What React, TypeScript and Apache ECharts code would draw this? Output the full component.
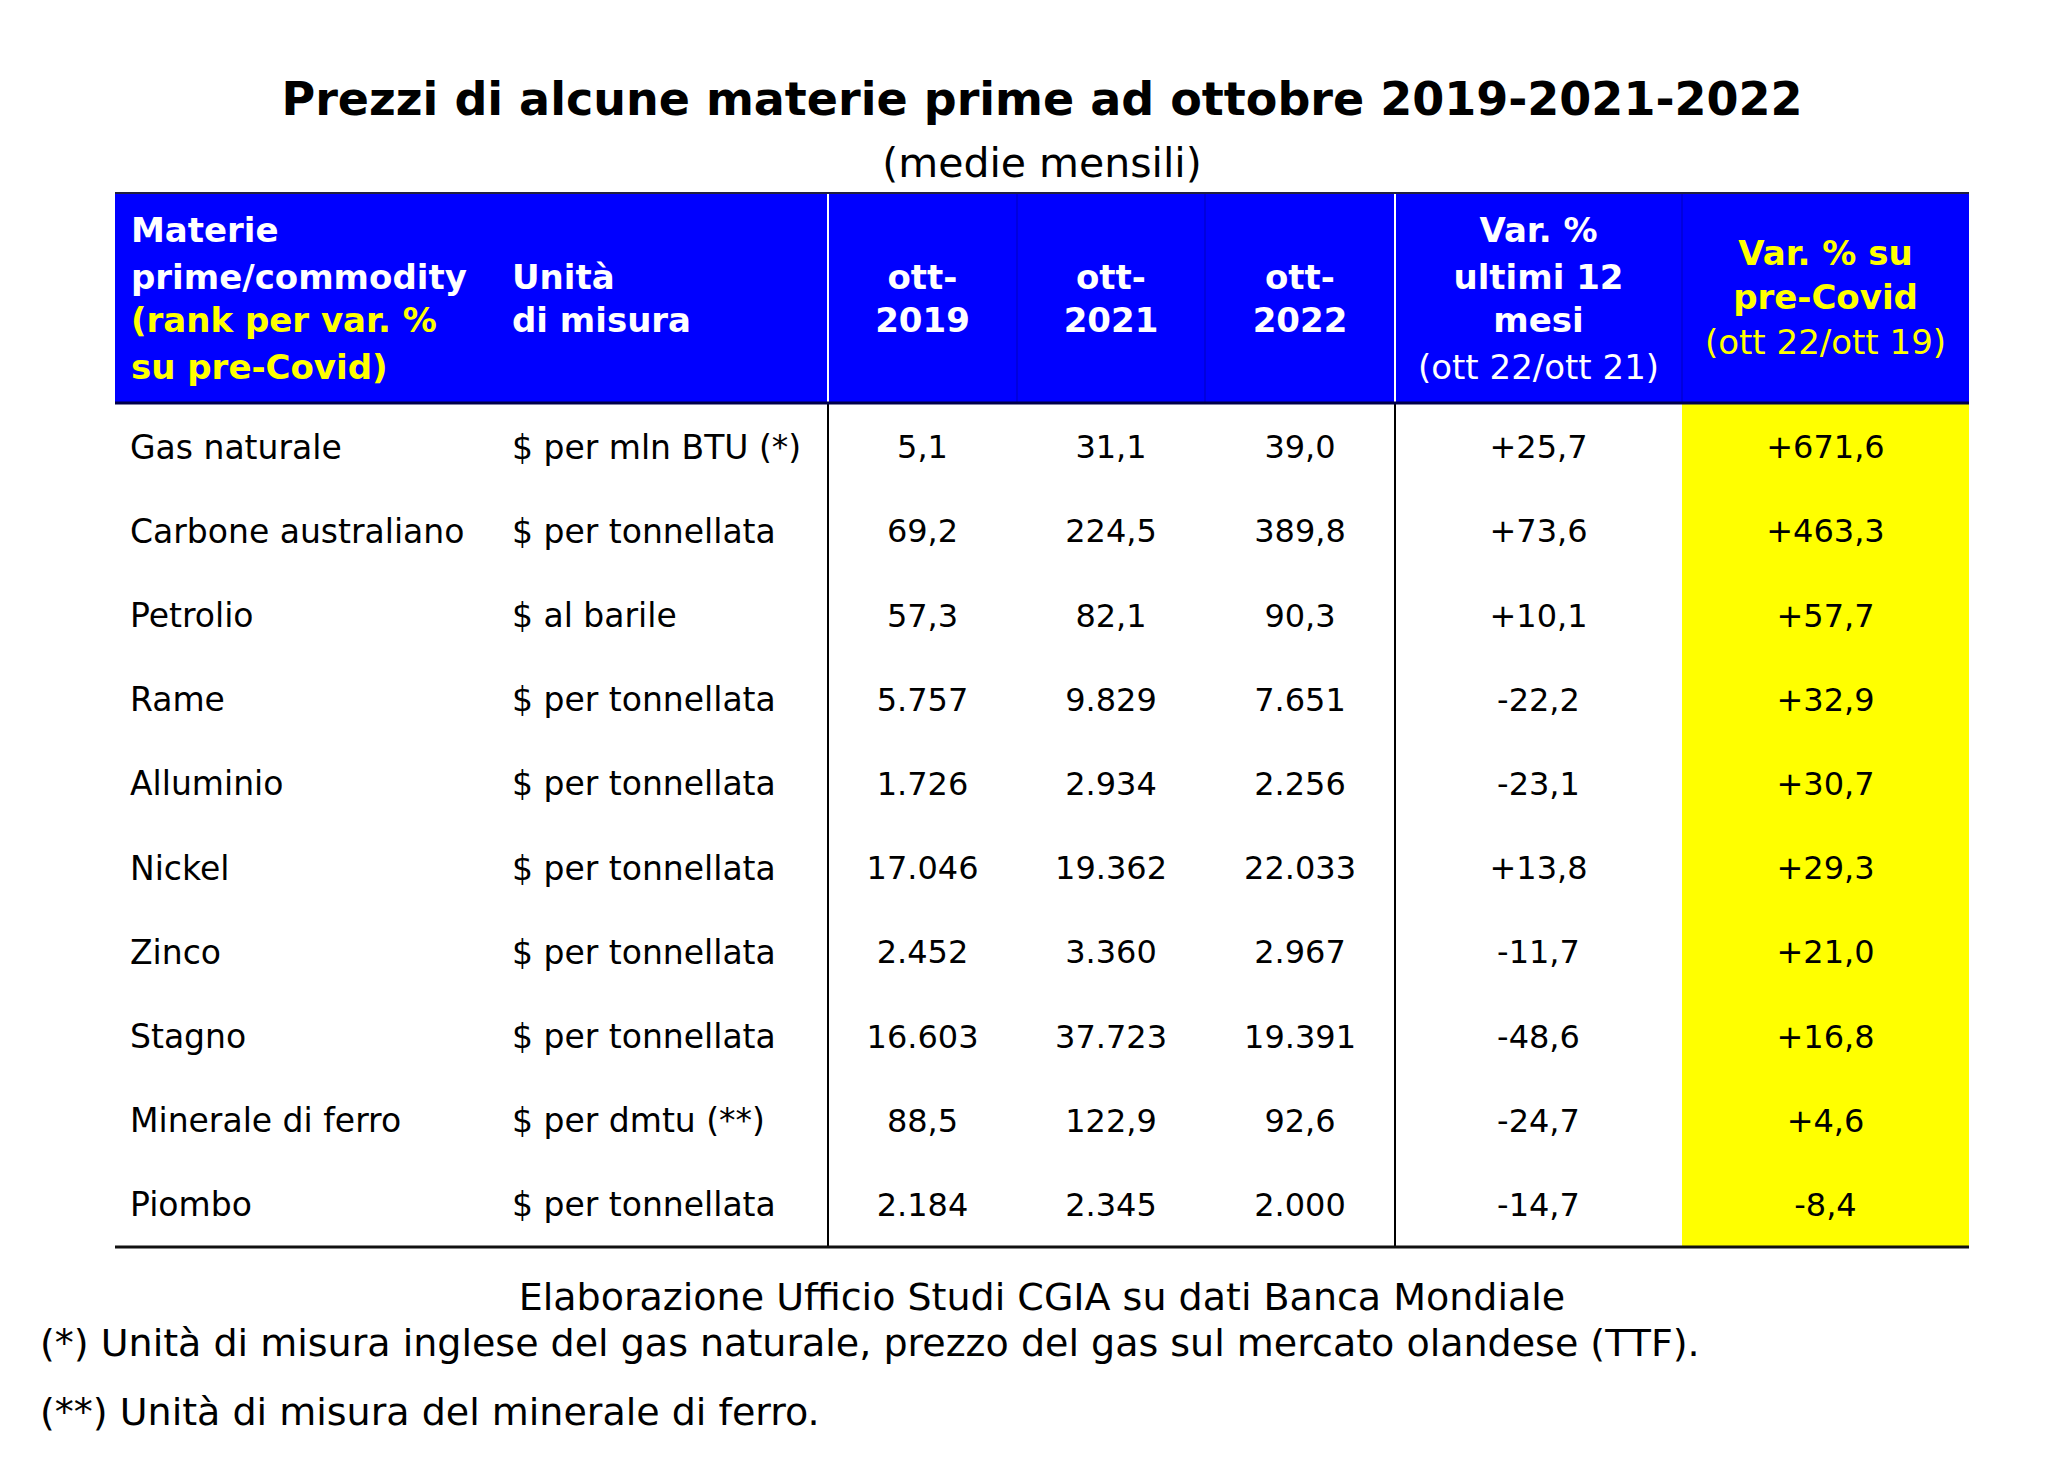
import React, { useEffect, useRef } from "react";
import * as echarts from "echarts";

// ---------- DATA ----------
const commodities = [
  "Gas naturale",
  "Carbone australiano",
  "Petrolio",
  "Rame",
  "Alluminio",
  "Nickel",
  "Zinco",
  "Stagno",
  "Minerale di ferro",
  "Piombo",
];
const units = [
  "$ per mln BTU (*)",
  "$ per tonnellata",
  "$ al barile",
  "$ per tonnellata",
  "$ per tonnellata",
  "$ per tonnellata",
  "$ per tonnellata",
  "$ per tonnellata",
  "$ per dmtu (**)",
  "$ per tonnellata",
];
const oct2019 = [5.1, 69.2, 57.3, 5757, 1726, 17046, 2452, 16603, 88.5, 2184];
const oct2021 = [31.1, 224.5, 82.1, 9829, 2934, 19362, 3360, 37723, 122.9, 2345];
const oct2022 = [39.0, 389.8, 90.3, 7651, 2256, 22033, 2967, 19391, 92.6, 2000];
const var12m = [25.7, 73.6, 10.1, -22.2, -23.1, 13.8, -11.7, -48.6, -24.7, -14.7];
const varPreCovid = [671.6, 463.3, 57.7, 32.9, 30.7, 29.3, 21.0, 16.8, 4.6, -8.4];

const titleText = "Prezzi di alcune materie prime ad ottobre 2019-2021-2022";
const subtitleText = "(medie mensili)";
const sourceText = "Elaborazione Ufficio Studi CGIA su dati Banca Mondiale";
const note1 = "(*) Unità di misura inglese del gas naturale, prezzo del gas sul mercato olandese (TTF).";
const note2 = "(**) Unità di misura del minerale di ferro.";

const headerCol0 = ["Materie", "prime/commodity", "(rank per var. %", "su pre-Covid)"];
const headerCol1 = ["Unità", "di misura"];
const headerYears = [["ott-", "2019"], ["ott-", "2021"], ["ott-", "2022"]];
const headerVar12 = ["Var. %", "ultimi 12", "mesi", "(ott 22/ott 21)"];
const headerVarPre = ["Var. % su", "pre-Covid", "(ott 22/ott 19)"];

// ---------- LAYOUT ----------
const W = 2054;
const H = 1478;
const TL = 115; // table left
const TW = 1854; // table width
const colEdges = [0, 383, 713, 902, 1090, 1280, 1567, 1854];
const HEAD_TOP = 193;
const HEAD_BOT = 402;
const BODY_TOP = 405;
const BODY_H = 842;
const FONT = "'DejaVu Sans', Verdana, sans-serif";
const BLUE = "#0000FF";
const YELLOW = "#FFFF00";

const fmtPrice = (v: number) =>
  v >= 1000
    ? Math.round(v).toString().replace(/\B(?=(\d{3})+(?!\d))/g, ".")
    : v.toFixed(1).replace(".", ",");
const fmtVar = (v: number) => (v > 0 ? "+" : "") + v.toFixed(1).replace(".", ",");

function cellText(c: number, r: number): string {
  switch (c) {
    case 0: return commodities[r];
    case 1: return units[r];
    case 2: return fmtPrice(oct2019[r]);
    case 3: return fmtPrice(oct2021[r]);
    case 4: return fmtPrice(oct2022[r]);
    case 5: return fmtVar(var12m[r]);
    default: return fmtVar(varPreCovid[r]);
  }
}

function txt(text: string, x: number, y: number, size: number, opts: any = {}) {
  const align = opts.align || "center";
  return {
    type: "text",
    x: 0,
    y: 0,
    silent: true,
    z: opts.z || 10,
    style: {
      text,
      x,
      y,
      fill: opts.color || "#000",
      font: `${opts.bold ? "bold " : ""}${size}px ${FONT}`,
      textAlign: align,
      align,
      textVerticalAlign: "middle",
      verticalAlign: "middle",
    },
  };
}

function vline(x: number, y1: number, y2: number, color: string, w: number, z = 5) {
  return { type: "line", silent: true, z, shape: { x1: x, y1, x2: x, y2 }, style: { stroke: color, lineWidth: w } };
}

export default function App() {
  const ref = useRef<HTMLDivElement>(null);

  useEffect(() => {
    document.body.style.margin = "0";
    if (!ref.current) return;
    const chart = echarts.init(ref.current, undefined, { renderer: "svg" });

    const cellData: number[][] = [];
    for (let r = 0; r < commodities.length; r++) {
      for (let c = 0; c < 7; c++) cellData.push([colEdges[c], r, c]);
    }

    const colCenter = (c: number) => TL + (colEdges[c] + colEdges[c + 1]) / 2;
    const hx = (c: number) => TL + colEdges[c];

    const graphics: any[] = [];
    graphics.push(txt(titleText, 1042, 99, 46, { bold: true }));
    graphics.push(txt(subtitleText, 1042, 163, 41));
    graphics.push({
      type: "rect",
      silent: true,
      z: 1,
      shape: { x: TL, y: HEAD_TOP, width: TW, height: HEAD_BOT - HEAD_TOP },
      style: { fill: BLUE },
    });
    graphics.push({ type: "line", silent: true, z: 6, shape: { x1: TL, y1: HEAD_TOP, x2: TL + TW, y2: HEAD_TOP }, style: { stroke: "#202040", lineWidth: 2 } });
    graphics.push({ type: "line", silent: true, z: 6, shape: { x1: TL, y1: HEAD_BOT + 1, x2: TL + TW, y2: HEAD_BOT + 1 }, style: { stroke: "#00004a", lineWidth: 3 } });
    graphics.push(vline(hx(2), HEAD_TOP, HEAD_BOT, "#ffffff", 2));
    graphics.push(vline(hx(5), HEAD_TOP, HEAD_BOT, "#ffffff", 2));
    [3, 4, 6].forEach((c) => graphics.push(vline(hx(c), HEAD_TOP, HEAD_BOT, "rgba(0,0,80,0.25)", 1.5)));
    const slot = [230, 277, 320, 367];
    headerCol0.forEach((t, i) =>
      graphics.push(txt(t, TL + 16, slot[i], 34, { bold: true, align: "left", color: i < 2 ? "#fff" : YELLOW }))
    );
    headerCol1.forEach((t, i) => graphics.push(txt(t, TL + colEdges[1] + 14, slot[i + 1], 34, { bold: true, align: "left", color: "#fff" })));
    headerYears.forEach((lines, k) =>
      lines.forEach((t, i) => graphics.push(txt(t, colCenter(2 + k), slot[i + 1], 34, { bold: true, color: "#fff" })))
    );
    headerVar12.forEach((t, i) =>
      graphics.push(txt(t, colCenter(5), slot[i], 34, { bold: i < 3, color: "#fff" }))
    );
    const slotPre = [253, 297, 342];
    headerVarPre.forEach((t, i) =>
      graphics.push(txt(t, colCenter(6), slotPre[i], 34, { bold: i < 2, color: YELLOW }))
    );
    graphics.push({
      type: "line",
      silent: true,
      z: 20,
      shape: { x1: TL, y1: BODY_TOP + BODY_H, x2: TL + TW, y2: BODY_TOP + BODY_H },
      style: { stroke: "#111", lineWidth: 3 },
    });
    graphics.push(txt(sourceText, 1042, 1297, 38));
    graphics.push(txt(note1, 40, 1343, 38, { align: "left" }));
    graphics.push(txt(note2, 40, 1412, 38, { align: "left" }));

    chart.setOption({
      animation: false,
      backgroundColor: "#ffffff",
      grid: { left: TL, top: BODY_TOP, width: TW, height: BODY_H, containLabel: false },
      xAxis: { type: "value", min: 0, max: TW, show: false },
      yAxis: { type: "category", data: commodities, inverse: true, show: false },
      graphic: graphics,
      series: [
        {
          type: "custom",
          coordinateSystem: "cartesian2d",
          data: cellData,
          encode: { x: 0, y: 1 },
          silent: true,
          renderItem: (params: any, api: any) => {
            const c = api.value(2) as number;
            const r = api.value(1) as number;
            const p0 = api.coord([colEdges[c], r]);
            const p1 = api.coord([colEdges[c + 1], r]);
            const h = api.size([0, 1])[1];
            const x0 = p0[0];
            const x1 = p1[0];
            const yc = p0[1];
            const children: any[] = [];
            if (c === 6) {
              children.push({
                type: "rect",
                shape: { x: x0, y: yc - h / 2 - 3, width: x1 - x0, height: h + 3 },
                style: { fill: YELLOW },
                z2: 0,
              });
            }
            const left = c < 2;
            const tx = left ? x0 + (c === 0 ? 15 : 14) : (x0 + x1) / 2;
            children.push({
              type: "text",
              z2: 10,
              style: {
                text: cellText(c, r),
                x: tx,
                y: yc,
                fill: "#000",
                font: `${left ? 33 : 32}px ${FONT}`,
                textAlign: left ? "left" : "center",
                textVerticalAlign: "middle",
              },
            });
            if (c === 1 || c === 4) {
              children.push({
                type: "line",
                z2: 5,
                shape: { x1: x1, y1: yc - h / 2 - 3, x2: x1, y2: yc + h / 2 },
                style: { stroke: "#000", lineWidth: 2 },
              });
            }
            return { type: "group", children };
          },
        },
      ],
    });

    return () => chart.dispose();
  }, []);

  return <div ref={ref} style={{ width: W, height: H, background: "#fff" }} />;
}
